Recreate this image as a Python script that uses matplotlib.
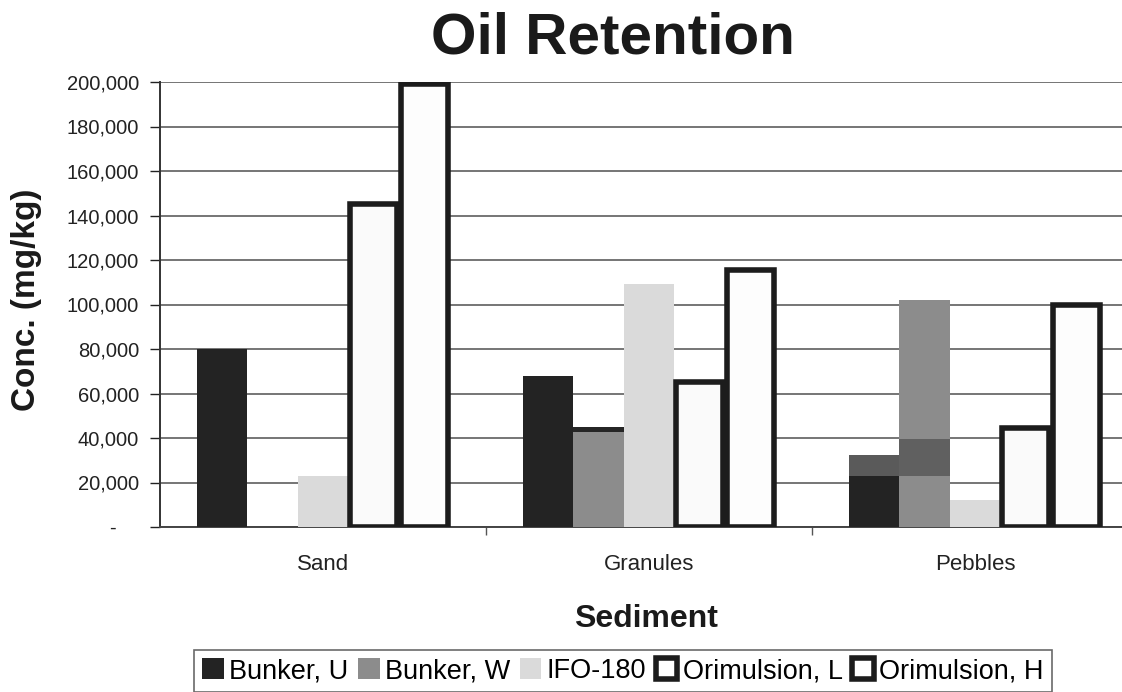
import matplotlib
matplotlib.use("Agg")
import matplotlib.pyplot as plt
import numpy as np
from matplotlib.ticker import FuncFormatter
from matplotlib.patches import Patch

plt.rcParams['font.family'] = ['Liberation Sans', 'DejaVu Sans']

sediments = ["Sand", "Granules", "Pebbles"]
series = ["Bunker, U", "Bunker, W", "IFO-180", "Orimulsion, L", "Orimulsion, H"]
bunker_u = [80000, 68000, 23000]
bunker_w = [0, 45000, 102000]
ifo_180 = [23000, 109000, 12000]
orim_l = [145000, 65000, 44500]
orim_h = [199000, 115500, 100000]

# extra tone bands drawn over individual bars: (sediment, series, low, high, colour)
tone_bands = [
    (2, 0, 23000, 32500, "#5a5a5a"),
    (2, 1, 23000, 39500, "#606060"),
    (1, 1, 42500, 45000, "#262626"),
]

values = [bunker_u, bunker_w, ifo_180, orim_l, orim_h]
fills = ["#232323", "#8c8c8c", "#dadada", "#fafafa", "#fdfdfd"]
edges = [None, None, None, "#1c1c1c", "#1c1c1c"]

fig = plt.figure(figsize=(11.22, 6.92), dpi=100)
ax = fig.add_axes([160 / 1122, 165 / 692, 978 / 1122, 445 / 692])

x = np.arange(len(sediments))
w = 0.155
for i, (vals, fc, ec) in enumerate(zip(values, fills, edges)):
    pos = x + (i - 2) * w
    if ec is None:
        ax.bar(pos, vals, width=w, color=fc, linewidth=0, zorder=3)
    else:
        ax.bar(pos, vals, width=w * 0.93, color=fc, edgecolor=ec,
               linewidth=4.0, zorder=4)

for si, ser, lo, hi, col in tone_bands:
    ax.bar(x[si] + (ser - 2) * w, hi - lo, bottom=lo, width=w,
           color=col, linewidth=0, zorder=3.5)

ax.set_xlim(-0.5, 2.5)
ax.set_ylim(0, 200000)
ax.set_yticks(np.arange(0, 200001, 20000))
# accounting style: zero shown as a dash set to the left
ax.yaxis.set_major_formatter(FuncFormatter(
    lambda v, p: "-\u2007\u2007" if v == 0 else f"{int(v):,}"))
ax.yaxis.grid(True, color="#6a6a6a", linewidth=1.3, zorder=0)
ax.set_axisbelow(True)

ax.set_xticks([0.5, 1.5])
ax.set_xticklabels([])
ax.tick_params(axis="x", length=6, width=1, color="#555555", direction="out")
for xi, name in zip(x, sediments):
    ax.text(xi, -17000, name, ha="center", va="center", fontsize=16, color="#222222")

ax.tick_params(axis="y", length=7, width=1, labelsize=14.5, colors="#222222", pad=8)
for s in ["top", "right"]:
    ax.spines[s].set_visible(False)
ax.spines["left"].set_color("#333333")
ax.spines["left"].set_linewidth(1.4)
ax.spines["bottom"].set_color("#444444")
ax.spines["bottom"].set_linewidth(1.4)

fig.text(613 / 1122, 1 - 38 / 692, "Oil Retention", ha="center", va="center",
         fontsize=42, fontweight="bold", color="#1a1a1a")
fig.text(27 / 1122, 1 - 300 / 692, "Conc. (mg/kg)", ha="center", va="center",
         rotation=90, fontsize=24, fontweight="bold", color="#1a1a1a")
fig.text(646 / 1122, 1 - 619 / 692, "Sediment", ha="center", va="center",
         fontsize=23, fontweight="bold", color="#1a1a1a")

handles = []
for fc, ec in zip(fills, edges):
    if ec is None:
        handles.append(Patch(facecolor=fc, edgecolor="none"))
    else:
        handles.append(Patch(facecolor="white", edgecolor=ec, linewidth=4))
leg = fig.legend(handles, series, loc="upper left", bbox_to_anchor=(194 / 1122, 1 - 650 / 692),
                 ncol=5, fontsize=19.5, frameon=True, fancybox=False, edgecolor="#444444",
                 handlelength=0.8, handleheight=0.8, handletextpad=0.2, columnspacing=0.35,
                 borderpad=0.3, borderaxespad=0)
leg.get_frame().set_linewidth(1.2)

fig.savefig("out.png", dpi=100, facecolor="white")
